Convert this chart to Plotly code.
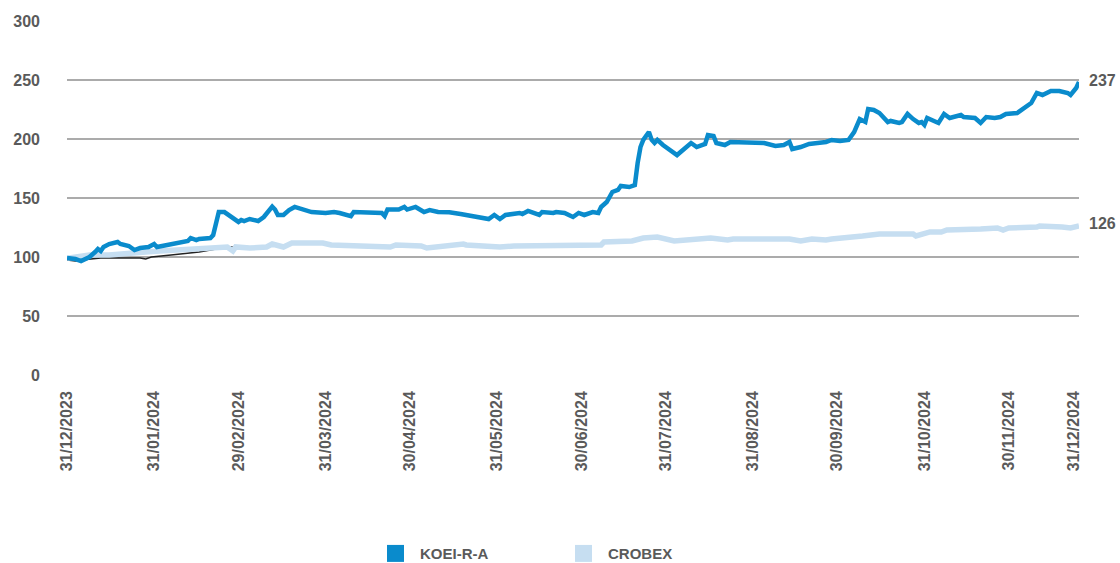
import plotly.graph_objects as go

# ---- data (days since 31/12/2023, index values) ----
koei_days = [0, 3, 5, 8, 10, 11, 12, 13, 15, 18, 19, 22, 24, 26, 29, 31, 32, 36, 38, 40, 43, 44, 46, 47,
             51, 52, 53, 54, 56, 57, 59, 61, 62, 63, 65, 67, 68, 70, 72, 73, 74, 75, 77, 79, 81, 84, 85,
             87, 92, 95, 97, 101, 102, 107, 112, 113, 114, 118, 120, 121, 124, 127, 129, 132, 134, 136,
             140, 144, 147, 149, 150, 152, 154, 156, 161, 162, 164, 166, 168, 169, 173, 174, 177, 180,
             182, 184, 187, 189, 190, 192, 194, 196, 197, 200, 202, 203, 204, 205, 207, 208, 209, 210,
             212, 217, 219, 222, 224, 227, 228, 230, 231, 234, 236, 238, 241, 248, 252, 255, 257, 258,
             261, 264, 267, 270, 272, 275, 278, 280, 282, 284, 285, 287, 289, 292, 293, 296, 297, 299,
             301, 303, 304, 305, 306, 310, 312, 314, 318, 319, 323, 325, 327, 330, 332, 334, 338, 341,
             343, 345, 347, 350, 353, 356, 357, 359, 360]
koei_values = [99.2, 98.3, 96.6, 100, 104.2, 106.8, 105.1, 108.5, 111, 112.7, 111, 109.3, 105.9, 107.6,
               108.5, 111, 108.5, 110.2, 111.9, 111.9, 113.6, 116.1, 114.4, 115.3, 116.1, 118.6, 128.8,
               138.1, 138.1, 136.4, 132.2, 129.7, 131.4, 130.5, 132.2, 131.4, 130.5, 133.9, 139.8, 142.7,
               140.2, 135.6, 135.6, 139.8, 142.4, 140.2, 139.8, 138.1, 137.3, 138.1, 137.3, 134.7, 138.1,
               137.3, 137.3, 134.7, 140.2, 140.2, 142.4, 140.2, 142.4, 138.1, 139.8, 138.1, 138, 138,
               136.4, 134.7, 133, 132.2, 132.2, 135.6, 132.2, 135.6, 137.3, 136.4, 139, 137.3, 135.6,
               138.1, 137.3, 138.1, 137.3, 133.9, 137.3, 135.6, 138.1, 137.3, 142.4, 146.6, 155.1, 156.8,
               160.2, 159.3, 161, 179.7, 193.2, 199.2, 205.9, 199.2, 196.6, 199.2, 194.9, 186.4, 190.7,
               196.6, 193.2, 195.8, 203.4, 202.5, 196.6, 194.9, 197.5, 197.5, 196.6, 196.6, 194.1, 194.9,
               197.5, 191.5, 193.2, 195.8, 196.6, 197.5, 199.2, 198.3, 199.2, 205.9, 216.9, 214.4, 225.4,
               224.6, 222, 214.4, 215.3, 213.6, 214.4, 221.2, 216.9, 213.6, 214.4, 211.9, 217.8, 213.6,
               221.2, 217.8, 220.3, 218.6, 217.8, 213.6, 218.6, 217.8, 218.6, 221.2, 222, 227.1, 230.5,
               239, 237.3, 240.7, 240.7, 239, 237.3, 243.2, 248.3]

crobex_days = [0, 8, 15, 21, 28, 33, 39, 45, 50, 53, 57, 59, 60, 65, 71, 73, 77, 80, 91, 94, 107, 109,
               115, 117, 121, 126, 128, 133, 136, 141, 142, 154, 159, 190, 191, 201, 205, 210, 216, 222,
               229, 235, 237, 257, 261, 265, 270, 272, 277, 283, 289, 301, 302, 307, 311, 313, 325, 331,
               333, 335, 345, 346, 354, 357, 360]
crobex_values = [99, 101.7, 101.7, 103.4, 104.2, 105.1, 105.9, 106.8, 107.6, 108.5, 108.5, 105.1, 108.5,
                 107.6, 108.5, 111, 108.5, 111.9, 111.9, 110.2, 109.3, 108.5, 108.5, 110.2, 109.3, 109.3,
                 107.6, 109.3, 110.2, 111, 110.2, 108.5, 109.3, 110.2, 112.7, 113.6, 116.1, 116.9, 113.6,
                 115.3, 116.1, 114.4, 115.3, 115.3, 113.6, 115.3, 114.4, 115.3, 116.1, 117.8, 119.5,
                 119.5, 117.8, 121.2, 121.2, 122.9, 123.7, 124.6, 122.9, 124.6, 125.4, 126.3, 125.4,
                 124.6, 126.3]

other_days = [0, 3, 5, 12, 15, 19, 26, 28, 30, 37, 40, 47, 53, 56, 59]
other_values = [97.5, 96.6, 97.5, 99.2, 99.2, 99.2, 99.2, 98.3, 100, 101.7, 102.5, 104.2, 106.8, 108.5, 108.5]

series_names = ["KOEI-R-A", "CROBEX"]
end_labels = ["237", "126"]

tick_days = [0, 31, 61, 92, 122, 153, 183, 213, 244, 274, 305, 335, 358]
tick_labels = ["31/12/2023", "31/01/2024", "29/02/2024", "31/03/2024", "30/04/2024", "31/05/2024",
               "30/06/2024", "31/07/2024", "31/08/2024", "30/09/2024", "31/10/2024", "30/11/2024",
               "31/12/2024"]
y_ticks = [0, 50, 100, 150, 200, 250, 300]

# ---- style ----
KOEI_COLOR = "#0a8bcc"
CROBEX_COLOR = "#c6def1"
TEXT_COLOR = "#5a5a5a"
GRID_COLOR = "#ababab"
FONT = "Liberation Sans"
series_colors = [KOEI_COLOR, CROBEX_COLOR]

fig = go.Figure()

fig.add_trace(go.Scatter(x=other_days, y=other_values, mode="lines",
                         line=dict(color="#222222", width=1.5), showlegend=False, hoverinfo="skip"))
fig.add_trace(go.Scatter(x=crobex_days, y=crobex_values, mode="lines", name=series_names[1],
                         line=dict(color=CROBEX_COLOR, width=5.5), showlegend=False))
fig.add_trace(go.Scatter(x=koei_days, y=koei_values, mode="lines", name=series_names[0],
                         line=dict(color=KOEI_COLOR, width=4.5), showlegend=False))

# end-of-line labels
for lbl, days, vals in zip(end_labels, [koei_days, crobex_days], [koei_values, crobex_values]):
    fig.add_annotation(x=days[-1], y=vals[-1], text=lbl, showarrow=False, xanchor="left",
                       xshift=8, yshift=2,
                       font=dict(family=FONT, size=16, color=TEXT_COLOR, weight="bold"))

# legend drawn below the chart (square swatches + labels)
legend_x = [0.3162, 0.502]
sw = 0.0168
for name, color, lx in zip(series_names, series_colors, legend_x):
    fig.add_shape(type="rect", xref="paper", yref="paper", x0=lx, x1=lx + sw, y0=-0.528, y1=-0.480,
                  fillcolor=color, line=dict(width=0))
    fig.add_annotation(xref="paper", yref="paper", x=lx + sw + 0.0135, y=-0.503, text=name,
                       showarrow=False, xanchor="left", yanchor="middle",
                       font=dict(family=FONT, size=15, color=TEXT_COLOR, weight="bold"))

fig.update_layout(
    width=1120, height=563,
    margin=dict(l=67, r=41, t=21, b=188),
    plot_bgcolor="white", paper_bgcolor="white",
    font=dict(family=FONT, color=TEXT_COLOR),
    showlegend=False,
    xaxis=dict(range=[0, 360], tickmode="array", tickvals=tick_days, ticktext=tick_labels,
               tickangle=-90, showgrid=False, zeroline=False, showline=False, automargin=False,
               ticklabelstandoff=12,
               tickfont=dict(family=FONT, size=16, color=TEXT_COLOR, weight="bold")),
    yaxis=dict(range=[0, 300], tickmode="array", tickvals=y_ticks, showgrid=True, automargin=False,
               gridcolor=GRID_COLOR, gridwidth=1.5, zeroline=False, showline=False,
               ticklabelstandoff=26,
               tickfont=dict(family=FONT, size=16, color=TEXT_COLOR, weight="bold")),
)

fig.write_html("out.html", config={"displayModeBar": False},
               post_script="document.body.style.margin='0';document.body.style.overflow='hidden';")
